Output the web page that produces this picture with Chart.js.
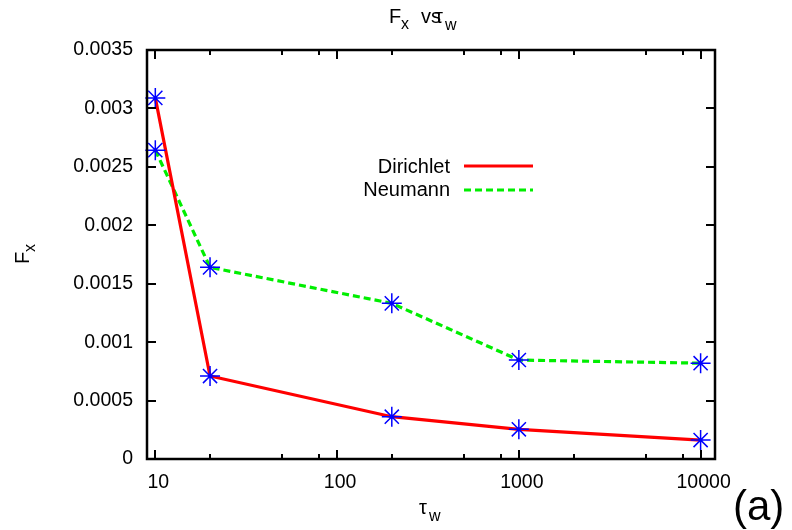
<!DOCTYPE html>
<html>
<head>
<meta charset="utf-8">
<script src="https://cdn.jsdelivr.net/npm/chart.js@4/dist/chart.umd.min.js"></script>
<style>
  html, body { margin: 0; padding: 0; background: #fff; }
  #wrap { width: 792px; height: 530px; }
</style>
</head>
<body>
<div id="wrap"><canvas id="c" width="792" height="530"></canvas></div>
<script>
// ---- data ----
const tauW = [10, 20, 200, 1000, 10000];
const dirichlet = [0.00309, 0.00071, 0.000362, 0.000254, 0.000162];
const neumann = [0.002643, 0.00164, 0.001332, 0.000847, 0.00082];
const seriesNames = ['Dirichlet', 'Neumann'];
const xTickValues = [10, 100, 1000, 10000];
const xTickLabels = ['10', '100', '1000', '10000'];
const xMinorTicks = [20, 50, 80, 200, 500, 800, 2000, 5000, 8000];
const yTickValues = [0, 0.0005, 0.001, 0.0015, 0.002, 0.0025, 0.003, 0.0035];
const yTickLabels = ['0', '0.0005', '0.001', '0.0015', '0.002', '0.0025', '0.003', '0.0035'];

const FONT = '"Liberation Sans", Arial, Helvetica, sans-serif';
const toPts = (ys) => tauW.map((x, i) => ({ x: x, y: ys[i] }));

const framePlugin = {
  id: 'frame',
  afterDraw(chart) {
    const { ctx, chartArea: a, scales: { x, y } } = chart;
    ctx.save();
    ctx.strokeStyle = '#000';
    ctx.lineCap = 'butt';
    // ticks (inward, mirrored)
    ctx.lineWidth = 2;
    ctx.beginPath();
    xTickValues.forEach(v => {
      const px = Math.round(x.getPixelForValue(v));
      ctx.moveTo(px, a.bottom); ctx.lineTo(px, a.bottom - 9);
      ctx.moveTo(px, a.top); ctx.lineTo(px, a.top + 9);
    });
    xMinorTicks.forEach(v => {
      const px = Math.round(x.getPixelForValue(v));
      ctx.moveTo(px, a.bottom); ctx.lineTo(px, a.bottom - 5);
      ctx.moveTo(px, a.top); ctx.lineTo(px, a.top + 5);
    });
    yTickValues.forEach(v => {
      const py = Math.round(y.getPixelForValue(v));
      ctx.moveTo(a.left, py); ctx.lineTo(a.left + 9, py);
      ctx.moveTo(a.right, py); ctx.lineTo(a.right - 9, py);
    });
    ctx.stroke();
    // border
    ctx.lineWidth = 2.5;
    ctx.strokeRect(a.left, a.top, a.right - a.left, a.bottom - a.top);

    ctx.fillStyle = '#000';
    // title: F_x  vs tau_w
    ctx.textBaseline = 'alphabetic';
    ctx.textAlign = 'left';
    ctx.font = '20px ' + FONT;
    ctx.fillText('F', 389, 23);
    ctx.font = '16px ' + FONT;
    ctx.fillText('x', 401, 29);
    ctx.font = '20px ' + FONT;
    ctx.fillText('vs', 421, 23);
    ctx.fillText('\u03C4', 435, 23);
    ctx.font = '16px ' + FONT;
    ctx.fillText('w', 445, 30);

    // x axis title: tau_w
    ctx.font = '20px ' + FONT;
    ctx.fillText('\u03C4', 419, 514);
    ctx.font = '16px ' + FONT;
    ctx.fillText('w', 429, 521);

    // y axis title: F_x (rotated)
    ctx.save();
    ctx.translate(28.5, 264);
    ctx.rotate(-Math.PI / 2);
    ctx.font = '20px ' + FONT;
    ctx.fillText('F', 0, 0);
    ctx.font = '16px ' + FONT;
    ctx.fillText('x', 12, 6.5);
    ctx.restore();

    // (a)
    ctx.font = '42px ' + FONT;
    ctx.fillText('(a)', 733, 520);

    // legend
    ctx.font = '20px ' + FONT;
    ctx.textAlign = 'right';
    const rows = [{ ty: 173, ly: 166 }, { ty: 196, ly: 190 }];
    chart.data.datasets.slice(0, 2).forEach((ds, i) => {
      ctx.fillStyle = '#000';
      ctx.fillText(ds.label, 450, rows[i].ty);
      ctx.strokeStyle = ds.borderColor;
      ctx.lineWidth = ds.borderWidth;
      ctx.setLineDash(ds.borderDash || []);
      ctx.beginPath();
      ctx.moveTo(464, rows[i].ly);
      ctx.lineTo(533, rows[i].ly);
      ctx.stroke();
      ctx.setLineDash([]);
    });
    ctx.restore();
  }
};

new Chart(document.getElementById('c'), {
  type: 'scatter',
  data: {
    datasets: [
      { label: seriesNames[0], data: toPts(dirichlet), showLine: true, borderColor: '#ff0000', borderWidth: 3.2,
        pointRadius: 0, fill: false, order: 3, clip: false },
      { label: seriesNames[1], data: toPts(neumann), showLine: true, borderColor: '#00ee00', borderWidth: 3.2,
        borderDash: [7, 4], pointRadius: 0, fill: false, order: 4, clip: false },
      { label: 'm1', data: toPts(dirichlet), showLine: false, pointStyle: 'star', pointRadius: 10,
        pointBorderColor: '#0000ff', pointBackgroundColor: '#0000ff', pointBorderWidth: 1.5, order: 1, clip: false },
      { label: 'm2', data: toPts(neumann), showLine: false, pointStyle: 'star', pointRadius: 10,
        pointBorderColor: '#0000ff', pointBackgroundColor: '#0000ff', pointBorderWidth: 1.5, order: 2, clip: false }
    ]
  },
  options: {
    responsive: false,
    animation: false,
    layout: { padding: { top: 50, right: 77, left: 0, bottom: 0 } },
    plugins: { legend: { display: false }, tooltip: { enabled: false }, title: { display: false } },
    scales: {
      x: {
        type: 'logarithmic',
        min: 9, max: 12000,
        grid: { display: false, drawTicks: false },
        border: { display: false },
        afterBuildTicks: (s) => { s.ticks = xTickValues.map(v => ({ value: v, major: true })); },
        afterFit: (s) => { s.height = 71; },
        ticks: {
          autoSkip: false, maxRotation: 0, padding: 12, labelOffset: 3,
          color: '#000', font: { family: FONT, size: 19.5 },
          callback: (v, i) => xTickLabels[i]
        }
      },
      y: {
        type: 'linear',
        min: 0, max: 0.0035,
        grid: { display: false, drawTicks: false },
        border: { display: false },
        afterBuildTicks: (s) => { s.ticks = yTickValues.map(v => ({ value: v })); },
        afterFit: (s) => { s.width = 147; },
        ticks: {
          autoSkip: false, padding: 14,
          color: '#000', font: { family: FONT, size: 19.5 },
          callback: (v, i) => yTickLabels[i]
        }
      }
    }
  },
  plugins: [framePlugin]
});
</script>
</body>
</html>
